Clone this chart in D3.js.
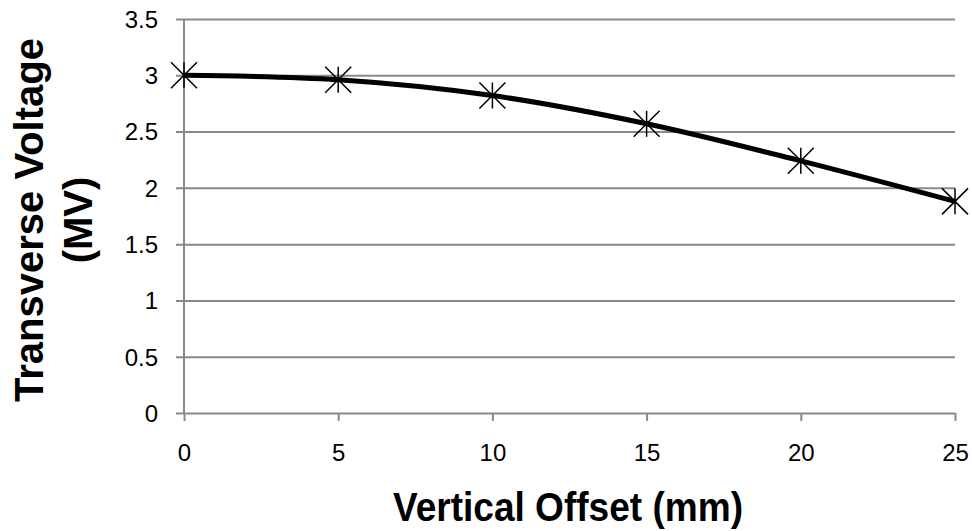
<!DOCTYPE html>
<meta charset="utf-8">
<style>

body {
  margin: 0;
  background: #fff;
}

text {
  font-family: Arial, "Liberation Sans", sans-serif;
}

</style>
<svg></svg>
<script src="https://cdn.jsdelivr.net/npm/d3@7"></script>
<script>

var offsets = [0, 5, 10, 15, 20, 25],
    voltages = [3.0, 2.96, 2.82, 2.57, 2.24, 1.88];

var xTicks = [0, 5, 10, 15, 20, 25],
    yTicks = [0, 0.5, 1, 1.5, 2, 2.5, 3, 3.5];

var width = 972,
    height = 531;

var margin = {top: 19, right: 17, bottom: 118, left: 184};

var gridColor = "#898989";

var svg = d3.select("svg")
    .attr("width", width)
    .attr("height", height);

var x = d3.scaleLinear()
    .domain([0, 25])
    .range([margin.left, width - margin.right]);

var y = d3.scaleLinear()
    .domain([0, 3.5])
    .range([height - margin.bottom, margin.top]);

// horizontal gridlines + y ticks
var yAxis = svg.append("g")
    .attr("transform", "translate(" + margin.left + ",0)")
    .call(d3.axisLeft(y)
      .tickValues(yTicks)
      .tickSize(8)
      .tickFormat(d3.format("")));

yAxis.select(".domain").remove();
yAxis.selectAll(".tick line")
    .attr("stroke", gridColor)
    .attr("stroke-width", 2)
    .attr("x2", x(25) - margin.left)
    .attr("x1", -8);
yAxis.selectAll(".tick text")
    .attr("font-size", 24)
    .attr("fill", "#000")
    .attr("x", -26)
    .attr("dy", "0.35em")
    .style("font-family", "Arial, 'Liberation Sans', sans-serif");

// x axis
var xAxis = svg.append("g")
    .attr("transform", "translate(0," + y(0) + ")")
    .call(d3.axisBottom(x)
      .tickValues(xTicks)
      .tickSize(8)
      .tickFormat(d3.format("")));

xAxis.select(".domain").remove();
xAxis.selectAll(".tick line")
    .attr("stroke", gridColor)
    .attr("stroke-width", 2);
xAxis.selectAll(".tick text")
    .attr("font-size", 24)
    .attr("fill", "#000")
    .attr("y", 48)
    .attr("dy", 0)
    .style("font-family", "Arial, 'Liberation Sans', sans-serif");

// vertical axis line
svg.append("line")
    .attr("x1", x(0)).attr("x2", x(0))
    .attr("y1", y(3.5)).attr("y2", y(0))
    .attr("stroke", gridColor)
    .attr("stroke-width", 2);

// data line
var line = d3.line()
    .curve(d3.curveCatmullRom.alpha(0.5))
    .x(function(d, i) { return x(offsets[i]); })
    .y(function(d) { return y(d); });

svg.append("path")
    .datum(voltages)
    .attr("fill", "none")
    .attr("stroke", "#000")
    .attr("stroke-width", 5)
    .attr("stroke-linejoin", "round")
    .attr("d", line);

// star markers
var s = 13;
svg.append("g")
  .selectAll("path")
  .data(voltages)
  .enter().append("path")
    .attr("transform", function(d, i) { return "translate(" + x(offsets[i]) + "," + y(d) + ")"; })
    .attr("d", "M" + (-s) + "," + (-s) + "L" + s + "," + s +
               "M" + (-s) + "," + s + "L" + s + "," + (-s) +
               "M0," + (-s) + "L0," + s)
    .attr("fill", "none")
    .attr("stroke", "#000")
    .attr("stroke-width", 1.5);

// axis titles
svg.append("text")
    .attr("x", 568)
    .attr("y", 521)
    .attr("text-anchor", "middle")
    .attr("font-size", 40)
    .attr("font-weight", "bold")
    .attr("textLength", 350)
    .attr("lengthAdjust", "spacingAndGlyphs")
    .text("Vertical Offset (mm)");

var yTitle = svg.append("text")
    .attr("transform", "translate(0,220) rotate(-90)")
    .attr("text-anchor", "middle")
    .attr("font-size", 40)
    .attr("font-weight", "bold");

yTitle.append("tspan")
    .attr("x", 0)
    .attr("y", 43)
    .text("Transverse Voltage");

yTitle.append("tspan")
    .attr("x", 0)
    .attr("y", 92)
    .text("(MV)");

</script>
